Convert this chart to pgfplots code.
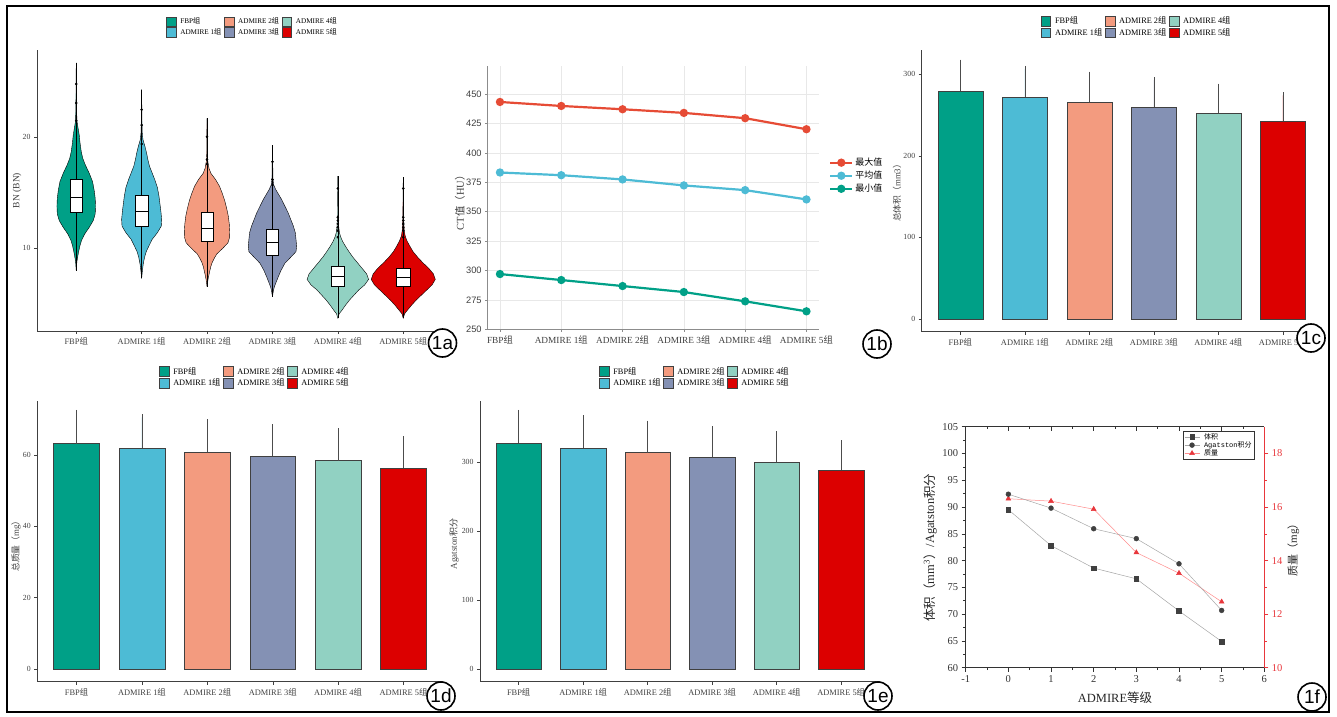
\documentclass[border=0pt]{standalone}
\usepackage{fontspec}
\setmainfont{Liberation Serif}
\setsansfont{Liberation Sans}
\setmonofont{Liberation Mono}
\newfontfamily\cjk{Noto Sans CJK SC}
\usepackage{pgfplots}
\pgfplotsset{compat=1.18}
\usepgfplotslibrary{statistics}
\usepackage{pgfplotstable}

\definecolor{cFBP}{HTML}{00A087}
\definecolor{cAa}{HTML}{4DBBD5}
\definecolor{cAb}{HTML}{F39B7F}
\definecolor{cAc}{HTML}{8491B4}
\definecolor{cAd}{HTML}{91D1C2}
\definecolor{cAe}{HTML}{DC0000}
\definecolor{cMax}{HTML}{E64B35}
\definecolor{ored}{HTML}{E8373C}

\newcommand\zu{{\cjk 组}}
\newcommand\fs[1]{\fontsize{#1}{#1}\selectfont}

% violin half-widths (category units) against BN value
\pgfplotstableread{
y w
7.98 0
8.8 0.01
9.5 0.03
10.2 0.055
10.7 0.08
11.3 0.13
11.9 0.2
12.5 0.26
13.1 0.29
13.8 0.295
14.5 0.29
15.2 0.275
16.0 0.25
16.75 0.2
17.5 0.14
18.1 0.1
18.7 0.077
19.5 0.058
20.2 0.046
20.95 0.025
21.5 0.01
23.0 0.005
26.7 0
}\vFBP
\pgfplotstableread{
y w
7.3 0
8.0 0.012
8.6 0.025
9.2 0.045
9.7 0.07
10.2 0.11
10.8 0.16
11.4 0.24
12.0 0.3
12.6 0.306
13.3 0.295
14.0 0.28
14.7 0.265
15.5 0.24
16.2 0.2
16.8 0.16
17.4 0.12
18.0 0.095
18.6 0.075
19.2 0.05
19.8 0.02
20.5 0.008
22.0 0.004
24.3 0
}\vAa
\pgfplotstableread{
y w
6.54 0
7.2 0.015
7.8 0.036
8.3 0.055
8.7 0.077
9.1 0.11
9.5 0.15
10.0 0.24
10.5 0.32
11.0 0.345
11.5 0.347
12.2 0.34
12.9 0.325
13.6 0.3
14.3 0.27
15.0 0.23
15.6 0.19
16.2 0.13
16.75 0.06
17.2 0.03
17.8 0.012
18.5 0.005
21.7 0
}\vAb
\pgfplotstableread{
y w
5.64 0
6.2 0.015
6.55 0.03
7.0 0.06
7.45 0.09
8.0 0.13
8.65 0.19
9.2 0.28
9.7 0.36
10.2 0.37
10.8 0.36
11.4 0.35
12.0 0.32
12.6 0.28
13.2 0.24
13.8 0.19
14.4 0.14
14.9 0.09
15.3 0.05
15.7 0.02
16.2 0.008
19.3 0
}\vAc
\pgfplotstableread{
y w
3.69 0
4.1 0.02
4.4 0.06
4.9 0.12
5.35 0.18
5.8 0.25
6.25 0.32
6.7 0.41
7.2 0.47
7.7 0.44
8.2 0.37
8.7 0.3
9.2 0.23
9.7 0.17
10.15 0.12
10.6 0.075
11.0 0.045
11.4 0.025
12.0 0.012
13.0 0.006
16.5 0
}\vAd
\pgfplotstableread{
y w
3.69 0
4.1 0.02
4.4 0.06
4.9 0.13
5.35 0.2
5.8 0.28
6.25 0.36
6.7 0.44
7.2 0.49
7.7 0.46
8.2 0.39
8.7 0.3
9.2 0.22
9.7 0.15
10.2 0.1
10.7 0.055
11.1 0.03
11.6 0.015
12.5 0.007
16.4 0
}\vAe

\pgfplotsset{
  sq/.style={fill=#1, draw=black!75, line width=0.5pt,
    legend image code/.code={\draw[fill=#1,draw=black!75,line width=0.5pt] (0pt,-4.8pt) rectangle (9.6pt,4.8pt);}},
  eb/.style={/pgfplots/error bars/y dir=plus, /pgfplots/error bars/y explicit,
    /pgfplots/error bars/error bar style={draw=black!70, line width=0.7pt},
    /pgfplots/error bars/error mark options={draw=black!70, line width=0.7pt, mark size=3pt}},
  bb/.style={ybar, bar width=0.7, bar shift=0pt, sq=#1, eb},
  vl/.style={sq=#1, draw=black, line width=0.4pt},
  gg/.style={scale only axis,
    axis x line=bottom, axis y line=left,
    axis line style={-, black!75, line width=0.6pt},
    tick style={black!75, line width=0.5pt}, major tick length=3pt, tick align=outside,
    xmin=-0.6, xmax=5.6, xtick={0,1,2,3,4,5},
    xticklabels={FBP\zu, ADMIRE 1\zu, ADMIRE 2\zu, ADMIRE 3\zu, ADMIRE 4\zu, ADMIRE 5\zu},
    /pgf/number format/assume math mode=true,
    x tick label style={font=\fs{8.4}, text=black!75},
    y tick label style={font=\fs{7.8}, text=black!75},
    legend columns=3, legend cell align=left,
    legend style={draw=none, fill=none, anchor=center, font=\fs{8.3},
      /tikz/every odd column/.append style={column sep=2.5pt},
      /tikz/every even column/.append style={column sep=1pt},
      nodes={inner sep=1.6pt}, row sep=0pt},
  },
}

\begin{document}
\begin{tikzpicture}[x=1pt,y=1pt]
\useasboundingbox (0,0) rectangle (1337,716);

% ---------------- 1a violin ----------------
\begin{axis}[gg, at={(37pt,385pt)}, anchor=south west, width=405.5pt, height=281pt,
  ymin=2.55, ymax=27.87, ytick={10,20},
  boxplot/draw direction=y,
  every axis y label/.style={at={(axis description cs:-0.049,0.5)}, rotate=90, anchor=center, font=\fs{9.5}, text=black!75},
  ylabel={BN (BN)},
  legend style={at={(0.531,1.082)}, font=\fs{7.2}}]
\addplot[vl=cFBP] table[x expr=\thisrow{w}, y=y] {\vFBP};
\addlegendentry{FBP\zu}
\addplot[vl=cAb] table[x expr=2+\thisrow{w}, y=y] {\vAb};
\addlegendentry{ADMIRE 2\zu}
\addplot[vl=cAd] table[x expr=4+\thisrow{w}, y=y] {\vAd};
\addlegendentry{ADMIRE 4\zu}
\addplot[vl=cAa] table[x expr=1+\thisrow{w}, y=y] {\vAa};
\addlegendentry{ADMIRE 1\zu}
\addplot[vl=cAc] table[x expr=3+\thisrow{w}, y=y] {\vAc};
\addlegendentry{ADMIRE 3\zu}
\addplot[vl=cAe] table[x expr=5+\thisrow{w}, y=y] {\vAe};
\addlegendentry{ADMIRE 5\zu}
\addplot[vl=cFBP, forget plot] table[x expr=0-\thisrow{w}, y=y] {\vFBP};
\addplot[vl=cAa, forget plot] table[x expr=1-\thisrow{w}, y=y] {\vAa};
\addplot[vl=cAb, forget plot] table[x expr=2-\thisrow{w}, y=y] {\vAb};
\addplot[vl=cAc, forget plot] table[x expr=3-\thisrow{w}, y=y] {\vAc};
\addplot[vl=cAd, forget plot] table[x expr=4-\thisrow{w}, y=y] {\vAd};
\addplot[vl=cAe, forget plot] table[x expr=5-\thisrow{w}, y=y] {\vAe};
\addplot[forget plot, fill=white, draw=black, line width=0.5pt, boxplot prepared={draw position=0, lower whisker=7.98, lower quartile=13.27, median=14.6, upper quartile=16.2, upper whisker=26.7, box extend=0.19, whisker extend=0}] coordinates {};
\addplot[forget plot, fill=white, draw=black, line width=0.5pt, boxplot prepared={draw position=1, lower whisker=7.3, lower quartile=12.0, median=13.33, upper quartile=14.74, upper whisker=24.3, box extend=0.19, whisker extend=0}] coordinates {};
\addplot[forget plot, fill=white, draw=black, line width=0.5pt, boxplot prepared={draw position=2, lower whisker=6.54, lower quartile=10.68, median=11.83, upper quartile=13.24, upper whisker=21.7, box extend=0.19, whisker extend=0}] coordinates {};
\addplot[forget plot, fill=white, draw=black, line width=0.5pt, boxplot prepared={draw position=3, lower whisker=5.64, lower quartile=9.4, median=10.54, upper quartile=11.71, upper whisker=19.3, box extend=0.19, whisker extend=0}] coordinates {};
\addplot[forget plot, fill=white, draw=black, line width=0.5pt, boxplot prepared={draw position=4, lower whisker=3.69, lower quartile=6.6, median=7.5, upper quartile=8.34, upper whisker=16.5, box extend=0.2, whisker extend=0}] coordinates {};
\addplot[forget plot, fill=white, draw=black, line width=0.5pt, boxplot prepared={draw position=5, lower whisker=3.69, lower quartile=6.54, median=7.39, upper quartile=8.2, upper whisker=16.4, box extend=0.2, whisker extend=0}] coordinates {};
\addplot[forget plot, only marks, mark=*, mark size=1.1pt, black] coordinates {
 (0,24.8) (0,23.1) (0,21.5)
 (1,22.5) (1,21.1) (1,19.4)
 (2,20.05) (2,18.0) (2,17.6)
 (3,17.8) (3,16.2) (3,15.7)
 (4,15.4) (4,12.8) (4,12.5) (4,12.2) (4,11.9) (4,11.6) (4,11.0)
 (5,15.4) (5,12.8) (5,12.5) (5,12.2) (5,11.9) (5,11.6) (5,11.0)};
\end{axis}

% ---------------- 1b lines ----------------
\begin{axis}[scale only axis, at={(487.7pt,386.7pt)}, anchor=south west, width=331pt, height=263.3pt,
  xmin=-0.2, xmax=5.2, ymin=250, ymax=474,
  xtick={0,1,2,3,4,5}, ytick={250,275,300,325,350,375,400,425,450},
  xticklabels={FBP\zu, ADMIRE 1\zu, ADMIRE 2\zu, ADMIRE 3\zu, ADMIRE 4\zu, ADMIRE 5\zu},
  axis x line=bottom, axis y line=left, axis line style={-, black!45, line width=0.8pt},
  grid=major, major grid style={black!9, line width=0.6pt},
  tick style={black!45, line width=0.6pt}, major tick length=2.5pt, tick align=outside,
  /pgf/number format/assume math mode=true,
  y tick label style={font=\fs{9.3}\sffamily, text=black!75},
  x tick label style={font=\fs{9.3}, text=black!75},
  every axis y label/.style={at={(axis description cs:-0.0837,0.491)}, rotate=90, anchor=center, font=\fs{10.5}, text=black!75},
  ylabel={CT{\cjk 值（}HU{\cjk ）}},
  legend cell align=left,
  legend style={at={(1.022,0.666)}, anchor=north west, draw=none, fill=none, font=\fs{9}, row sep=0pt, nodes={inner sep=2pt}},
  legend image code/.code={\draw[mark repeat=2, mark phase=2, #1] plot coordinates {(0pt,0pt) (11pt,0pt) (22pt,0pt)};},
]
\addplot[cMax, line width=2.2pt, mark=*, mark size=3pt] coordinates {(0,443.4) (1,440.0) (2,437.2) (3,434.1) (4,429.6) (5,420.2)};
\addlegendentry{\cjk 最大值}
\addplot[cAa, line width=2.2pt, mark=*, mark size=3pt] coordinates {(0,383.4) (1,381.1) (2,377.5) (3,372.4) (4,368.4) (5,360.5)};
\addlegendentry{\cjk 平均值}
\addplot[cFBP, line width=2.2pt, mark=*, mark size=3pt] coordinates {(0,297.0) (1,291.9) (2,286.8) (3,281.7) (4,273.8) (5,265.3)};
\addlegendentry{\cjk 最小值}
\end{axis}

% ---------------- 1c bars ----------------
\begin{axis}[gg, at={(921.7pt,384.3pt)}, anchor=south west, width=399.9pt, height=281.7pt,
  ymin=-15.6, ymax=329.8, ytick={0,100,200,300},
  every axis y label/.style={at={(axis description cs:-0.062,0.5)}, rotate=90, anchor=center, font=\fs{8.8}, text=black!75},
  ylabel={{\cjk 总体积（}mm3{\cjk ）}},
  legend style={at={(0.537,1.082)}}]
\addplot[bb=cFBP] coordinates {(0,279.6) +- (0,34.7)}; \addlegendentry{FBP\zu}
\addplot[bb=cAb] coordinates {(2,265.7) +- (0,33.9)}; \addlegendentry{ADMIRE 2\zu}
\addplot[bb=cAd] coordinates {(4,252.2) +- (0,32.6)}; \addlegendentry{ADMIRE 4\zu}
\addplot[bb=cAa] coordinates {(1,272.2) +- (0,34.3)}; \addlegendentry{ADMIRE 1\zu}
\addplot[bb=cAc] coordinates {(3,259.6) +- (0,33.4)}; \addlegendentry{ADMIRE 3\zu}
\addplot[bb=cAe] coordinates {(5,242.4) +- (0,31.8)}; \addlegendentry{ADMIRE 5\zu}
\end{axis}

% ---------------- 1d bars ----------------
\begin{axis}[gg, at={(37.3pt,34.3pt)}, anchor=south west, width=405.5pt, height=281pt,
  ymin=-3.56, ymax=75.2, ytick={0,20,40,60},
  every axis y label/.style={at={(axis description cs:-0.0525,0.49)}, rotate=90, anchor=center, font=\fs{8.8}, text=black!75},
  ylabel={{\cjk 总质量（}mg{\cjk ）}},
  legend style={at={(0.536,1.0836)}}]
\addplot[bb=cFBP] coordinates {(0,63.2) +- (0,8.6)}; \addlegendentry{FBP\zu}
\addplot[bb=cAb] coordinates {(2,60.7) +- (0,8.5)}; \addlegendentry{ADMIRE 2\zu}
\addplot[bb=cAd] coordinates {(4,58.4) +- (0,8.2)}; \addlegendentry{ADMIRE 4\zu}
\addplot[bb=cAa] coordinates {(1,61.9) +- (0,8.6)}; \addlegendentry{ADMIRE 1\zu}
\addplot[bb=cAc] coordinates {(3,59.6) +- (0,8.2)}; \addlegendentry{ADMIRE 3\zu}
\addplot[bb=cAe] coordinates {(5,56.3) +- (0,8.1)}; \addlegendentry{ADMIRE 5\zu}
\end{axis}

% ---------------- 1e bars ----------------
\begin{axis}[gg, at={(480pt,34.3pt)}, anchor=south west, width=399.9pt, height=281pt,
  ymin=-18.4, ymax=389.4, ytick={0,100,200,300},
  every axis y label/.style={at={(axis description cs:-0.065,0.49)}, rotate=90, anchor=center, font=\fs{9}, text=black!75},
  ylabel={Agatston{\cjk 积分}},
  legend style={at={(0.537,1.0836)}}]
\addplot[bb=cFBP] coordinates {(0,328.0) +- (0,43.6)}; \addlegendentry{FBP\zu}
\addplot[bb=cAb] coordinates {(2,314.0) +- (0,42.0)}; \addlegendentry{ADMIRE 2\zu}
\addplot[bb=cAd] coordinates {(4,300.0) +- (0,40.6)}; \addlegendentry{ADMIRE 4\zu}
\addplot[bb=cAa] coordinates {(1,320.8) +- (0,43.0)}; \addlegendentry{ADMIRE 1\zu}
\addplot[bb=cAc] coordinates {(3,307.3) +- (0,41.0)}; \addlegendentry{ADMIRE 3\zu}
\addplot[bb=cAe] coordinates {(5,288.8) +- (0,39.2)}; \addlegendentry{ADMIRE 5\zu}
\end{axis}

% ---------------- 1f dual axis ----------------
\begin{axis}[scale only axis, at={(965.7pt,48.3pt)}, anchor=south west, width=298.6pt, height=241pt,
  xmin=-1, xmax=6, ymin=0, ymax=1, xtick={-1,0,1,2,3,4,5,6}, minor x tick num=1, xticklabels={},
  axis x line=top, axis y line=none, axis line style={-, black!80, line width=0.7pt},
  tick style={black!80, line width=0.6pt}, major tick length=4pt, minor tick length=2.5pt, tick align=inside]
\addplot[draw=none] coordinates {(0,0)};
\end{axis}
\begin{axis}[scale only axis, at={(965.7pt,48.3pt)}, anchor=south west, width=298.6pt, height=241pt,
  xmin=-1, xmax=6, ymin=10, ymax=19, ytick={10,12,14,16,18}, minor y tick num=1,
  axis x line=none, axis y line=right, axis line style={-, ored, line width=0.7pt},
  tick style={ored, line width=0.6pt}, major tick length=4pt, minor tick length=2.5pt, tick align=outside,
  /pgf/number format/assume math mode=true,
  y tick label style={font=\fs{10.5}, text=ored},
  every axis y label/.style={at={(axis description cs:1.097,0.5)}, rotate=90, anchor=center, font=\fs{11}, text=black!85},
  ylabel={{\cjk 质量（}mg{\cjk ）}}]
\addplot[red!45, line width=0.5pt, mark=triangle*, mark size=2.8pt, mark options={fill=ored, draw=ored}] coordinates {(0,16.31) (1,16.22) (2,15.92) (3,14.30) (4,13.53) (5,12.46)};
\end{axis}
\begin{axis}[scale only axis, at={(965.7pt,48.3pt)}, anchor=south west, width=298.6pt, height=241pt,
  xmin=-1, xmax=6, ymin=60, ymax=105,
  xtick={-1,0,1,2,3,4,5,6}, ytick={60,65,70,75,80,85,90,95,100,105},
  minor x tick num=1, minor y tick num=1,
  axis x line=bottom, axis y line=left, axis line style={-, black!80, line width=0.7pt},
  tick style={black!80, line width=0.6pt}, major tick length=4pt, minor tick length=2.5pt, tick align=outside,
  /pgf/number format/assume math mode=true,
  tick label style={font=\fs{10.5}, text=black!80},
  every axis y label/.style={at={(axis description cs:-0.1196,0.498)}, rotate=90, anchor=center, font=\fs{12.5}, text=black!85},
  ylabel={{\cjk 体积（}mm\textsuperscript{3}{\cjk ）}/Agatston{\cjk 积分}},
  every axis x label/.style={at={(axis description cs:0.5,-0.1245)}, anchor=center, font=\fs{12.5}, text=black!85},
  xlabel={ADMIRE{\cjk 等级}},
  legend cell align=left,
  legend style={at={(0.9655,0.983)}, anchor=north east, draw=black!80, fill=white, font=\fs{7}\ttfamily, inner sep=1pt, row sep=-1.5pt, nodes={inner sep=1.2pt},
    /tikz/every odd column/.append style={column sep=3pt}},
  legend image code/.code={\draw[mark repeat=2, mark phase=2, #1] plot coordinates {(0pt,0pt) (7.5pt,0pt) (15pt,0pt)};},
]
\addplot[gray!70, line width=0.5pt, mark=square*, mark size=2.3pt, mark options={fill=black!75, draw=black!75}] coordinates {(0,89.5) (1,82.8) (2,78.6) (3,76.6) (4,70.6) (5,64.9)};
\addlegendentry{\cjk 体积}
\addplot[gray!70, line width=0.5pt, mark=*, mark size=2.4pt, mark options={fill=black!75, draw=black!75}] coordinates {(0,92.4) (1,89.8) (2,85.95) (3,84.1) (4,79.4) (5,70.7)};
\addlegendentry{Agatston{\cjk 积分}}
\addlegendimage{red!45, line width=0.5pt, mark=triangle*, mark size=2.8pt, mark options={fill=ored, draw=ored}}
\addlegendentry{\cjk 质量}
\end{axis}

% ---------------- panel tags and frame ----------------
\foreach \p/\x/\y in {1a/442.5/373, 1b/877/372, 1c/1311/378, 1d/441/20, 1e/878/20, 1f/1312/19}
  \node[circle, draw=black, line width=1.6pt, fill=white, minimum size=28pt, inner sep=0pt, font=\fs{19}\sffamily] at (\x,\y) {\p};
\draw[line width=2pt] (7,4) rectangle (1329,710);
\end{tikzpicture}
\end{document}
